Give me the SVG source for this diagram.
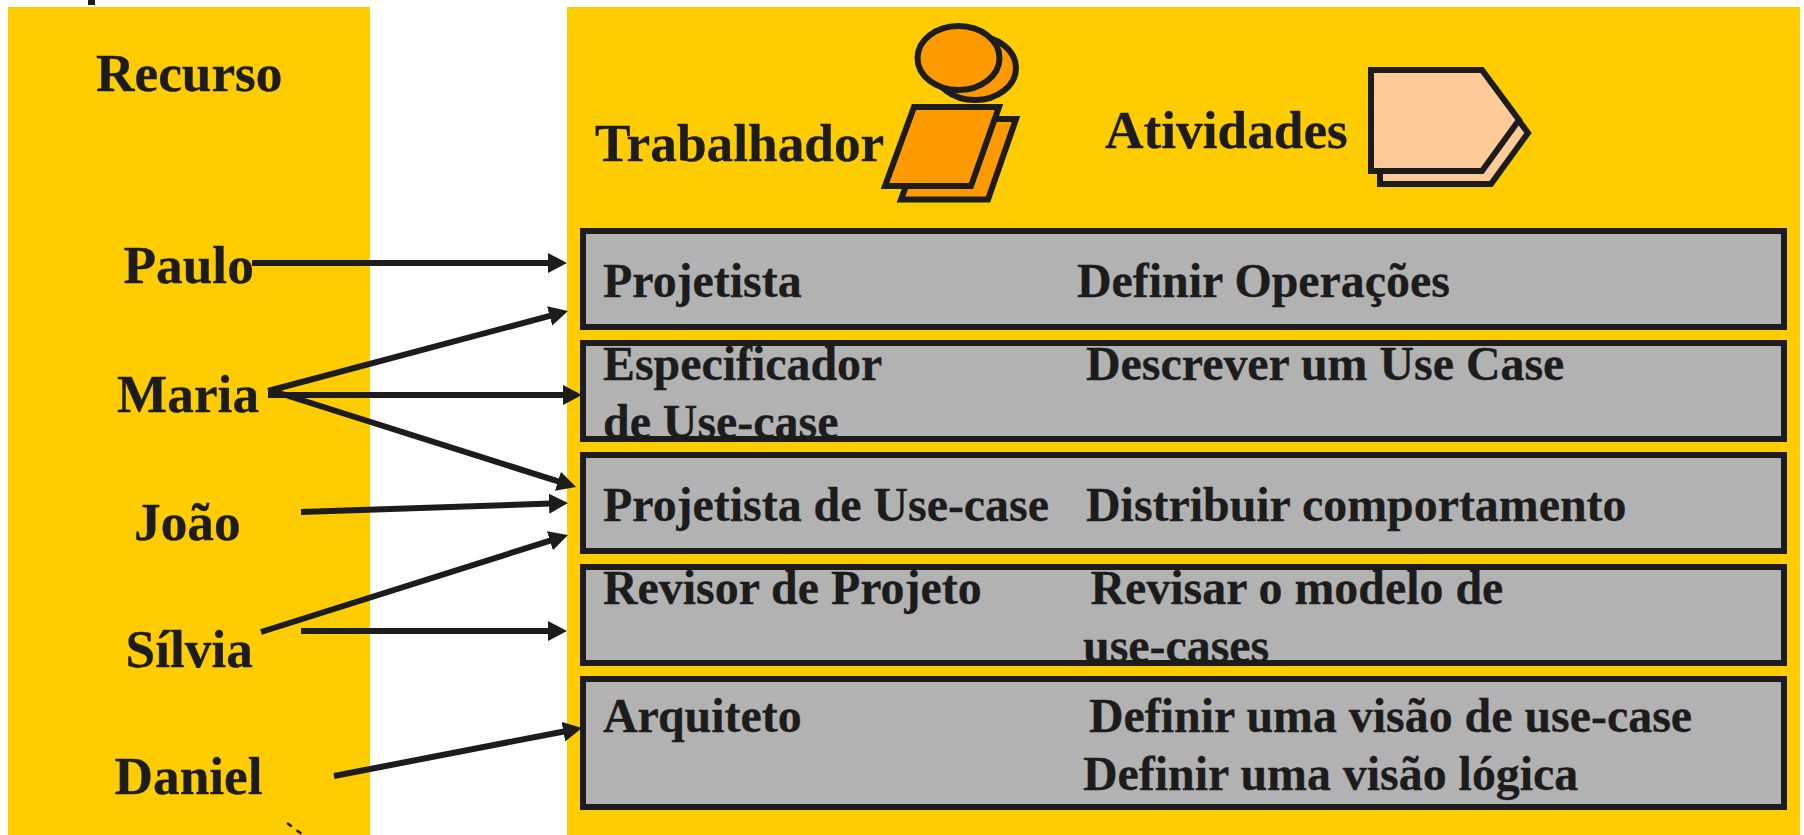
<svg xmlns="http://www.w3.org/2000/svg" width="1804" height="835" viewBox="0 0 1804 835">
<style>
text{font-family:"Liberation Serif","Times New Roman",serif;font-weight:bold;fill:#1c1c1c;stroke:#1c1c1c;stroke-width:.3}
.h{font-size:53.3px}
.r{font-size:47.9px}
.box{fill:#b2b2b2}
.bd{fill:none;stroke:#1c1c1c;stroke-width:6}
.ic{stroke:#1c1c1c;stroke-width:6;fill:#f90}
.ac{stroke:#1c1c1c;stroke-width:6;fill:#fc9}
.c line{stroke:#1c1c1c;stroke-width:6;marker-end:url(#a)}
</style>
<defs><marker id="a" markerUnits="userSpaceOnUse" markerWidth="20" markerHeight="20" refX="2" refY="10" orient="auto"><path d="M0 0L19 10L0 20Z" fill="#1c1c1c"/></marker></defs>
<rect width="1804" height="835" fill="#fff"/>
<rect x="88" y="0" width="7" height="5" fill="#1c1c1c"/>
<g id="recursos">
<rect x="8" y="7" width="362" height="828" fill="#fc0"/>
<text class="h" x="96" y="91">Recurso</text>
<text class="h" x="123.500" y="283">Paulo</text>
<text class="h" x="117" y="412">Maria</text>
<text class="h" x="134" y="540">João</text>
<text class="h" x="125.500" y="667">Sílvia</text>
<text class="h" x="114.500" y="794">Daniel</text>
</g>
<g id="painel">
<rect x="567" y="7" width="1233" height="828" fill="#fc0"/>
<text class="h" x="595" y="161">Trabalhador</text>
<text class="h" x="1105" y="148">Atividades</text>
</g>
<g id="trabalhador-icone">
<ellipse class="ic" cx="975" cy="68" rx="41" ry="32"/>
<ellipse class="ic" cx="958.5" cy="58" rx="41" ry="32"/>
<path class="ic" d="M931 119H1016L988 199.5H901Z"/>
<path class="ic" d="M914 107H999L971 186H885Z"/>
</g>
<g id="atividade-icone">
<path class="ac" d="M1380 83H1491L1528 133L1491 184H1380Z"/>
<path class="ac" d="M1371 70H1482L1519 120L1482 171H1371Z"/>
</g>
<g id="linha1"><rect class="box" x="583" y="231" width="1201" height="96"/>
<text class="r" x="603" y="297">Projetista</text><text class="r" x="1077" y="297">Definir Operações</text><rect class="bd" x="583" y="231" width="1201" height="96"/></g>
<g id="linha2"><rect class="box" x="583" y="343" width="1201" height="96"/>
<text class="r" x="603" y="380">Especificador</text><text class="r" x="603" y="438">de Use-case</text><text class="r" x="1086" y="380">Descrever um Use Case</text><rect class="bd" x="583" y="343" width="1201" height="96"/></g>
<g id="linha3"><rect class="box" x="583" y="455" width="1201" height="96"/>
<text class="r" x="603" y="521">Projetista de Use-case</text><text class="r" x="1086" y="521">Distribuir comportamento</text><rect class="bd" x="583" y="455" width="1201" height="96"/></g>
<g id="linha4"><rect class="box" x="583" y="567" width="1201" height="96"/>
<text class="r" x="603" y="604">Revisor de Projeto</text><text class="r" x="1090.500" y="604">Revisar o modelo de</text><text class="r" x="1083" y="662">use-cases</text><rect class="bd" x="583" y="567" width="1201" height="96"/></g>
<g id="linha5"><rect class="box" x="583" y="679" width="1201" height="128"/>
<text class="r" x="603" y="732">Arquiteto</text><text class="r" x="1089" y="732">Definir uma visão de use-case</text><text class="r" x="1083" y="790">Definir uma visão lógica</text><rect class="bd" x="583" y="679" width="1201" height="128"/></g>
<g id="conectores" class="c">
<line x1="252" y1="263" x2="550" y2="263"/>
<line x1="268" y1="391" x2="551.6" y2="315.4"/>
<line x1="268" y1="395" x2="565" y2="395"/>
<line x1="276" y1="392" x2="559.8" y2="481.9"/>
<line x1="301" y1="512" x2="551" y2="503.6"/>
<line x1="261" y1="632" x2="551.8" y2="540.1"/>
<line x1="301" y1="631" x2="550" y2="631"/>
<line x1="334" y1="776" x2="565.3" y2="731.2"/>
<path d="M287 823L303 835" fill="none" stroke="#1c1c1c" stroke-width="2.500" stroke-dasharray="6 6"/>
</g>
</svg>
